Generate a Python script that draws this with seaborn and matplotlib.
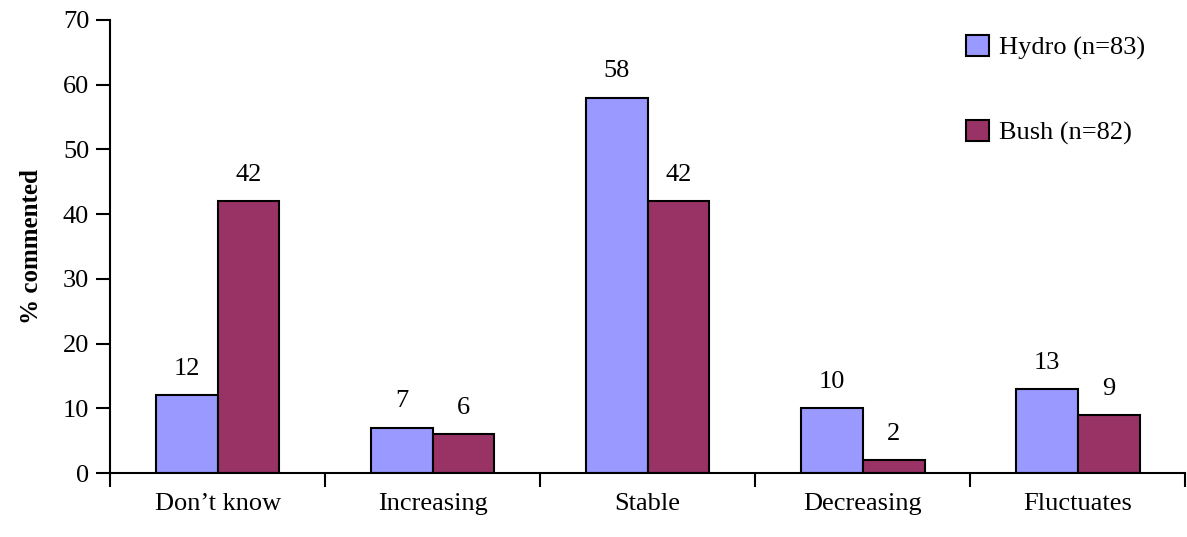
import pandas as pd
import seaborn as sns
import matplotlib.pyplot as plt

# chart data
categories = ["Don\u2019t know", "Increasing", "Stable", "Decreasing", "Fluctuates"]
hydro = [12, 7, 58, 10, 13]
bush = [42, 6, 42, 2, 9]
groups = ["Hydro (n=83)", "Bush (n=82)"]

df = pd.DataFrame({
    "category": categories * 2,
    "value": hydro + bush,
    "group": [groups[0]] * len(categories) + [groups[1]] * len(categories),
})

sns.set_style("white")
plt.rcParams["font.family"] = ["Liberation Serif", "DejaVu Serif"]
plt.rcParams["text.color"] = "black"
plt.rcParams["xtick.color"] = "black"
plt.rcParams["ytick.color"] = "black"
plt.rcParams["axes.labelcolor"] = "black"

fig = plt.figure(figsize=(11.87, 5.37), dpi=100)
ax = fig.add_axes([0.0927, 0.119, 0.906, 0.844])

sns.barplot(data=df, x="category", y="value", hue="group",
            palette=["#9999FF", "#993366"], width=0.574, saturation=1,
            edgecolor="black", linewidth=1.5, ax=ax)

for c in ax.containers:
    ax.bar_label(c, padding=11, fontsize=19)

ax.set_ylim(0, 70)
ax.set_xlim(-0.5, 4.5)
ax.set_yticks(range(0, 71, 10))
ax.set_xlabel("")
ax.set_ylabel("% commented", fontsize=18, fontweight="bold", labelpad=14)

for s in ["top", "right"]:
    ax.spines[s].set_visible(False)
for s in ["left", "bottom"]:
    ax.spines[s].set_linewidth(1.5)
    ax.spines[s].set_color("black")

# ticks at category boundaries on the x axis
ax.set_xticks([i - 0.5 for i in range(len(categories) + 1)], minor=True)
ax.tick_params(axis="x", which="major", length=0, pad=14, labelsize=19)
ax.tick_params(axis="x", which="minor", length=10, width=1.5, direction="out", bottom=True)
ax.tick_params(axis="y", length=10, width=1.5, direction="out", left=True, labelsize=19, pad=5)

leg = ax.legend(loc="upper right", bbox_to_anchor=(0.985, 1.02), frameon=False,
                fontsize=19, labelspacing=2.3, handlelength=0.85, handleheight=0.85,
                handletextpad=0.4)

fig.savefig("out.png", dpi=100)
